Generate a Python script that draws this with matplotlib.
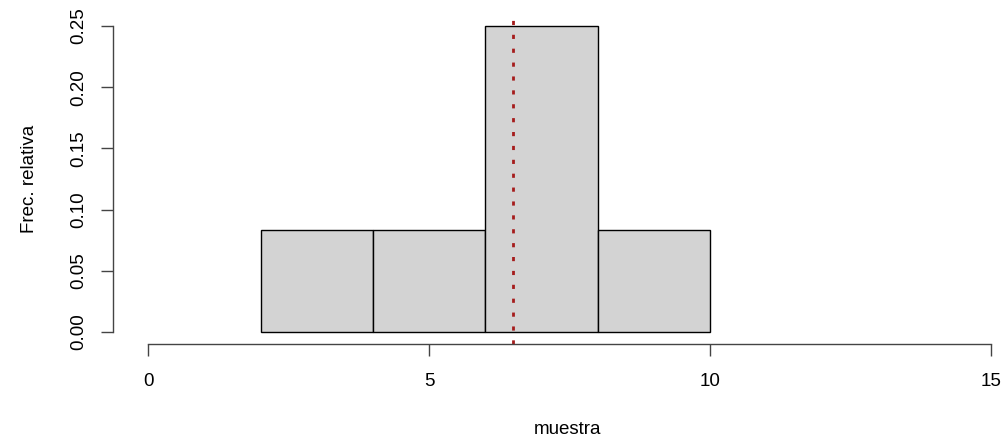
import matplotlib.pyplot as plt

# Histogram data (relative frequency / density), bin width 2
bin_edges = [2, 4, 6, 8, 10]
rel_freq = [1/12, 1/12, 0.25, 1/12]
mean_value = 6.5

x_ticks = [0, 5, 10, 15]
y_ticks = [0.00, 0.05, 0.10, 0.15, 0.20, 0.25]

plt.rcParams['font.family'] = ['Liberation Sans', 'DejaVu Sans']

fig = plt.figure(figsize=(10.08, 4.43), dpi=100)
ax = fig.add_axes([113/1008, (443-344.2)/443, 1 - 113/1008, (344.2-13.8)/443])

widths = [b - a for a, b in zip(bin_edges[:-1], bin_edges[1:])]
ax.bar(bin_edges[:-1], rel_freq, width=widths, align='edge',
       color='#D3D3D3', edgecolor='black', linewidth=1)

ax.axvline(mean_value, color='#A51C1C', linestyle=(0, (1.5, 3.5)), linewidth=2)

ax.set_xlim(-0.625, (1008 - 148) / 56.2)
ax.set_ylim(-0.01, 0.26)

for s in ['top', 'right']:
    ax.spines[s].set_visible(False)
ax.spines['left'].set_bounds(0, 0.25)
ax.spines['bottom'].set_bounds(0, 15)
for s in ['left', 'bottom']:
    ax.spines[s].set_color('#444444')
    ax.spines[s].set_linewidth(1)

ax.set_xticks(x_ticks)
ax.set_xticklabels([str(v) for v in x_ticks])
ax.set_yticks(y_ticks)
ax.set_yticklabels([f"{v:.2f}" for v in y_ticks], rotation=90, va='center')
ax.tick_params(axis='both', length=8.6, width=1, color='#444444',
               labelsize=13.5, direction='out')
ax.tick_params(axis='x', pad=12)
ax.tick_params(axis='y', pad=10)

fig.text(568/1008, 1 - 429/443, 'muestra', ha='center', va='center', fontsize=13.5)
fig.text(29/1008, 1 - 179/443, 'Frec. relativa', ha='center', va='center',
         rotation=90, fontsize=13.5)

fig.savefig('out.png', dpi=100)
